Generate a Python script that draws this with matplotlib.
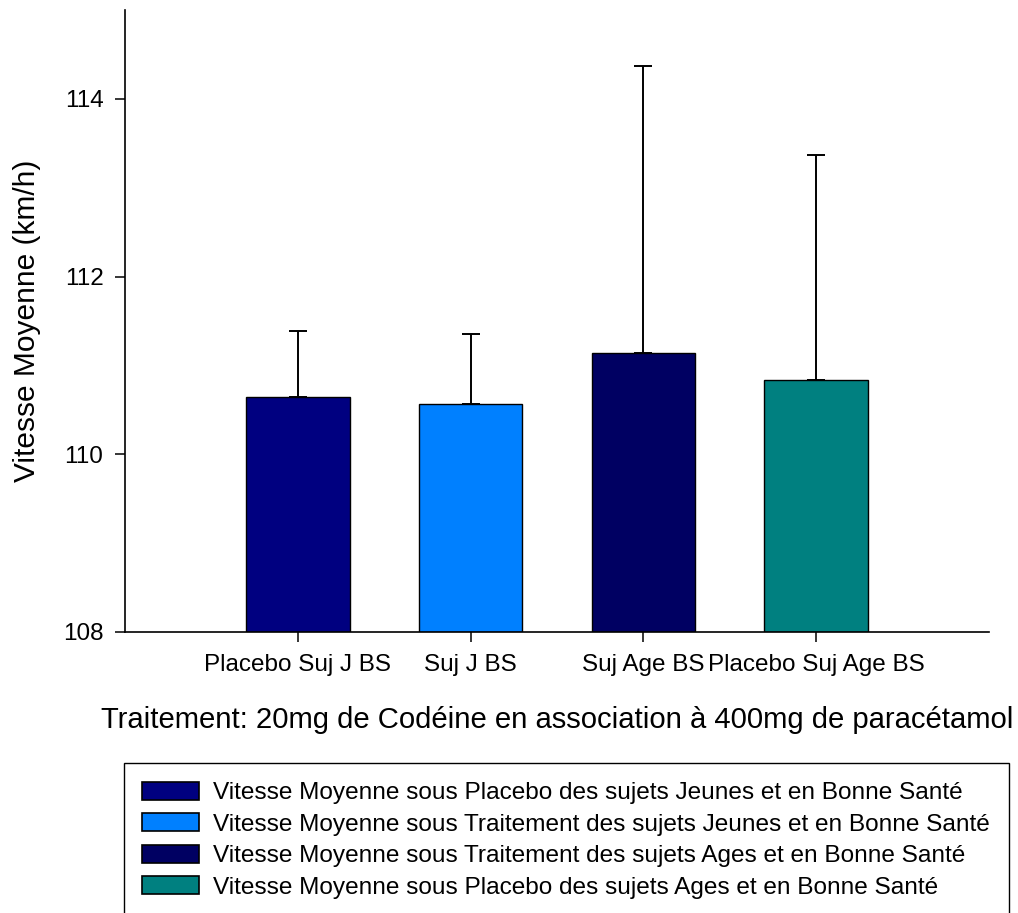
import matplotlib
matplotlib.use("Agg")
import matplotlib.pyplot as plt
from matplotlib.patches import Rectangle, Patch

plt.rcParams['font.family'] = ['Liberation Sans', 'DejaVu Sans']

categories = ["Placebo Suj J BS", "Suj J BS", "Suj Age BS", "Placebo Suj Age BS"]
means = [110.65, 110.57, 111.14, 110.84]
errors = [0.74, 0.78, 3.23, 2.53]
colors = ["#000080", "#0080FF", "#000062", "#008080"]
legend_labels = [
    "Vitesse Moyenne sous Placebo des sujets Jeunes et en Bonne Santé",
    "Vitesse Moyenne sous Traitement des sujets Jeunes et en Bonne Santé",
    "Vitesse Moyenne sous Traitement des sujets Ages et en Bonne Santé",
    "Vitesse Moyenne sous Placebo des sujets Ages et en Bonne Santé",
]
yticks = [108, 110, 112, 114]

W, H = 1018, 913
fig = plt.figure(figsize=(W / 100, H / 100), dpi=100)
ax = fig.add_axes([125 / W, 1 - 632 / H, (989 - 125) / W, (632 - 10) / H])

x = list(range(len(categories)))
base = 108
ax.bar(x, [m - base for m in means], bottom=base, width=0.6, color=colors,
       edgecolor="black", linewidth=1.0, zorder=2)
ax.errorbar(x, means, yerr=[[0] * len(errors), errors], fmt="none",
            ecolor="black", elinewidth=1.4, capsize=6.7, capthick=1.4, zorder=3)

ax.set_xlim(-1, 4)
ax.set_ylim(108, 115)
ax.set_yticks(yticks)
ax.set_yticklabels([str(t) for t in yticks])
ax.set_xticks(x)
ax.set_xticklabels(categories)
for s in ["top", "right"]:
    ax.spines[s].set_visible(False)
for s in ["left", "bottom"]:
    ax.spines[s].set_linewidth(1.2)
ax.tick_params(axis="both", direction="out", length=7, width=1.1,
               labelsize=17.5, pad=8.5)

ax.set_xlabel("Traitement: 20mg de Codéine en association à 400mg de paracétamol",
              fontsize=21.1, labelpad=22)
ax.set_ylabel("Vitesse Moyenne (km/h)", fontsize=21.5, labelpad=16)

# legend frame
frame = Rectangle((124 / W, 1 - 930 / H), (1009 - 124) / W, (930 - 763) / H,
                  transform=fig.transFigure, fill=False, edgecolor="black",
                  linewidth=1.0)
fig.add_artist(frame)
handles = [Patch(facecolor=c, edgecolor="black", linewidth=1.2) for c in colors]
fig.legend(handles, legend_labels, loc="upper left",
           bbox_to_anchor=(142 / W, 1 - 782 / H), frameon=False,
           fontsize=17.6, handlelength=2.33, handleheight=0.74,
           handletextpad=0.58, labelspacing=0.37, borderpad=0, borderaxespad=0)

fig.savefig("out.png", dpi=100)
